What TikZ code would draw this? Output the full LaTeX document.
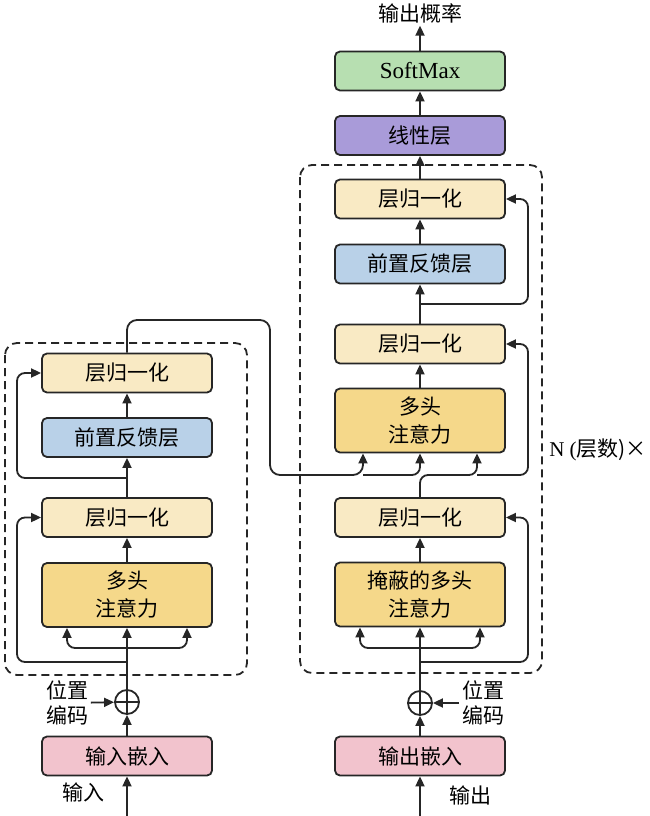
\documentclass[tikz,border=0pt]{standalone}
\usepackage{fontspec}
\setmainfont{Liberation Serif}
\newfontfamily\cjk{Noto Sans CJK SC}
\usepackage{xcolor}
\usepackage{tikz}
\usetikzlibrary{arrows.meta}
\usetikzlibrary{calc}
\definecolor{lncol}{HTML}{F9EAC4}
\definecolor{ffncol}{HTML}{B9D1E8}
\definecolor{mhacol}{HTML}{F5D88A}
\definecolor{embcol}{HTML}{F2C3CD}
\definecolor{softcol}{HTML}{B7DFB1}
\definecolor{lincol}{HTML}{A99BD9}
\tikzset{
	blk/.style={draw=black!85, line width=1.8pt, rounded corners=5pt, minimum width=170pt, minimum height=39pt, inner sep=2pt, font=\cjk\fontsize{21}{28}\selectfont},
	tallblk/.style={blk, fill=mhacol, minimum height=64pt, align=center},
	addnode/.style={circle, draw=black!85, line width=1.8pt, minimum size=24pt, inner sep=0pt,
		path picture={\draw[line width=1.8pt] (path picture bounding box.north) -- (path picture bounding box.south) (path picture bounding box.west) -- (path picture bounding box.east);}},
	lbl/.style={font=\cjk\fontsize{21}{25}\selectfont, inner sep=2pt},
	frame/.style={draw=black!85, line width=1.8pt, dash pattern=on 8pt off 5pt, rounded corners=12pt},
	res/.style={->, rounded corners=8pt}
}

\begin{document}
\begin{tikzpicture}[x=1pt, y=-1pt, line width=1.8pt, draw=black!85, >={Triangle[length=10pt,width=9pt]}]
			\useasboundingbox (0,0) rectangle (650,816);
			
			\draw[frame] (5,343) rectangle (247,675);
			\draw[frame] (300,165) rectangle (542,673);
			
			% encoder
			\node[blk, fill=embcol] (encEmb) at (127,756) {输入嵌入};
			\node[addnode] (encAdd) at (127,702) {};
			\node[tallblk] (encMha) at (127,595) {多头\\注意力};
			\node[blk, fill=lncol] (encLnB) at (127,517.5) {层归一化};
			\node[blk, fill=ffncol] (encFfn) at (127,437.5) {前置反馈层};
			\node[blk, fill=lncol] (encLnT) at (127,373) {层归一化};
			
			\node[lbl] (encInTxt) at (83,792) {输入};
			\node[lbl, align=center] (encPosTxt) at (67,703) {位置\\编码};
			
			\coordinate (encIn) at (127,816);
			\coordinate (encRes1) at (127,662);
			\coordinate (encSplit) at (127,648);
			\coordinate (encRes2) at (127,478);
			\coordinate (encTurn) at (270,320);
			\coordinate (encBus) at (270,475);
			
			% decoder
			\node[blk, fill=embcol] (decEmb) at (420,756) {输出嵌入};
			\node[addnode] (decAdd) at (420,703) {};
			\node[tallblk] (decMmha) at (420,594.5) {掩蔽的多头\\注意力};
			\node[blk, fill=lncol] (decLnB) at (420,517.5) {层归一化};
			\node[tallblk] (decMha) at (420,420.5) {多头\\注意力};
			\node[blk, fill=lncol] (decLnM) at (420,344) {层归一化};
			\node[blk, fill=ffncol] (decFfn) at (420,264) {前置反馈层};
			\node[blk, fill=lncol] (decLnT) at (420,199) {层归一化};
			\node[blk, fill=lincol] (lin) at (420,135.5) {线性层};
			\node[blk, fill=softcol, font=\fontsize{23}{26}\selectfont] (soft) at (420,71) {SoftMax};
			\node[lbl] (prob) at (420,13) {输出概率};
			
			\node[lbl] (decOutTxt) at (470,795) {输出};
			\node[lbl, align=center] (decPosTxt) at (483,703) {位置\\编码};
			\node[font=\fontsize{21}{24}\selectfont, inner sep=2pt] (nTxt) at (598,450) {N (\cjk 层数)×};
			
			\coordinate (decIn) at (420,816);
			\coordinate (decRes1) at (420,662);
			\coordinate (decSplit) at (420,648);
			\coordinate (decBus) at (420,475);
			\coordinate (decRes2) at (420,304);
			\coordinate (crossL) at ([xshift=-57pt]decMha.south);
			\coordinate (crossR) at ([xshift=57pt]decMha.south);
			
			% encoder flow
			\draw[->] (encIn) -- (encEmb);
			\draw[->] (encEmb) -- (encAdd);
			\draw[->] (encPosTxt) -- (encAdd);
			\draw[->] (encAdd) -- (encMha);
			\draw[res] (encSplit) -| ([xshift=-60pt]encMha.south);
			\draw[res] (encSplit) -| ([xshift=60pt]encMha.south);
			\draw[res] (encRes1) -- ++(-110,0) |- (encLnB.west);
			\draw[->] (encMha) -- (encLnB);
			\draw[->] (encLnB) -- (encFfn);
			\draw[res] (encRes2) -- ++(-110,0) |- (encLnT.west);
			\draw[->] (encFfn) -- (encLnT);
			\draw[res, rounded corners=10pt] (encLnT.north) |- (encTurn) -- (encBus) -| (crossL);
			\draw[res] (crossL |- encBus) -| (decMha.south);
			
			% decoder flow
			\draw[->] (decIn) -- (decEmb);
			\draw[->] (decEmb) -- (decAdd);
			\draw[->] (decPosTxt) -- (decAdd);
			\draw[->] (decAdd) -- (decMmha);
			\draw[res] (decSplit) -| ([xshift=-60pt]decMmha.south);
			\draw[res] (decSplit) -| ([xshift=60pt]decMmha.south);
			\draw[res] (decRes1) -- ++(108,0) |- (decLnB.east);
			\draw[->] (decMmha) -- (decLnB);
			\draw[res] (decLnB.north) -- (decBus) -| (crossR);
			\draw[res] (crossR |- decBus) -- ++(51,0) |- (decLnM.east);
			\draw[->] (decMha) -- (decLnM);
			\draw[->] (decLnM) -- (decFfn);
			\draw[res] (decRes2) -- ++(108,0) |- (decLnT.east);
			\draw[->] (decFfn) -- (decLnT);
			\draw[->] (decLnT) -- (lin);
			\draw[->] (lin) -- (soft);
			\draw[->] (soft) -- (prob);
			
		\end{tikzpicture}
\end{document}
